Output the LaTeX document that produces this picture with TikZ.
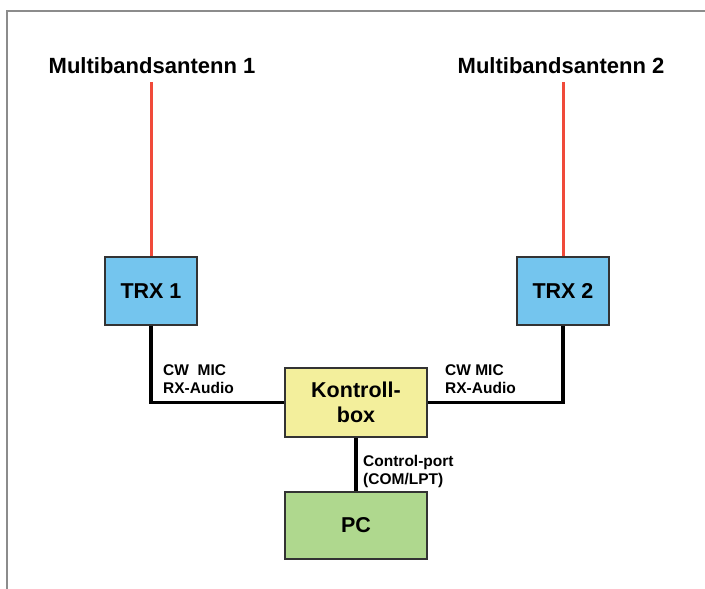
\documentclass[tikz,border=0pt]{standalone}
\usepackage{fontspec}
\setmainfont{Liberation Sans}
\definecolor{trxblue}{HTML}{74C5EE}
\definecolor{boxyellow}{HTML}{F3EF9C}
\definecolor{pcgreen}{HTML}{AFD88E}
\definecolor{antred}{HTML}{F04A3A}
\definecolor{edgegray}{HTML}{333333}
\definecolor{framegray}{HTML}{8C8C8C}
\begin{document}
\begin{tikzpicture}[x=1pt,y=-1pt,
  unit/.style={draw=edgegray,line width=1.2pt,inner sep=0pt,align=center,
    font=\bfseries\fontsize{21.5}{25}\selectfont},
  trx/.style={unit,fill=trxblue,minimum width=92pt,minimum height=68pt},
  ctrl/.style={unit,fill=boxyellow,minimum width=142pt,minimum height=69pt},
  pcbox/.style={unit,fill=pcgreen,minimum width=142pt,minimum height=67pt},
  antlabel/.style={inner sep=0pt,anchor=base,font=\bfseries\fontsize{22}{25}\selectfont},
  sig/.style={inner sep=0pt,anchor=north west,align=left,
    font=\bfseries\fontsize{15.5}{18.5}\selectfont},
  feed/.style={draw=antred,line width=3pt},
  wire/.style={draw=black,line width=3.2pt}]
\useasboundingbox (0,0) rectangle (705,589);
% frame edges
\draw[framegray,line width=2.4pt] (7,589) -- (7,11) -- (705,11);

% antennas
\node[antlabel] (lab1) at (152,73) {Multibandsantenn 1};
\node[antlabel] (lab2) at (561,73) {Multibandsantenn 2};
\coordinate (ant1) at (151,82);
\coordinate (ant2) at (563,82);

% units
\node[trx] (trx1) at (151,291) {TRX 1};
\node[trx] (trx2) at (563,291) {TRX 2};
\node[ctrl] (kb) at (356,402.5) {Kontroll-\\box};
\node[pcbox] (pc) at (356,525.5) {PC};

% feed lines
\draw[feed] (ant1) -- (trx1.north);
\draw[feed] (ant2) -- (trx2.north);

% cables
\draw[wire] (trx1.south) |- (kb.west);
\draw[wire] (trx2.south) |- (kb.east);
\draw[wire] (kb.south) -- (pc.north);

% cable labels
\node[sig] (s1) at (163,364) {CW\ \ MIC\\RX-Audio};
\node[sig] (s2) at (445,364) {CW MIC\\RX-Audio};
\node[sig] (s3) at (363,455) {Control-port\\(COM/LPT)};
\end{tikzpicture}
\end{document}
